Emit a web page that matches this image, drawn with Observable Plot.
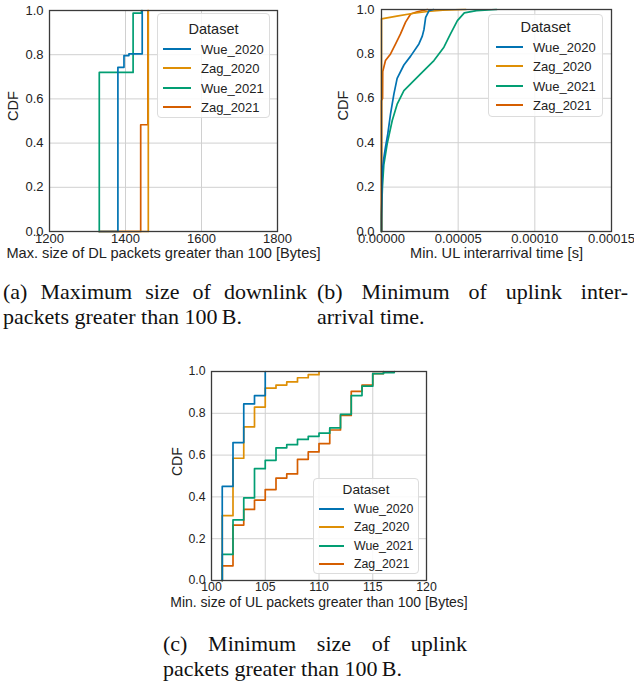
<!DOCTYPE html>
<html><head><meta charset="utf-8">
<script src="https://cdn.jsdelivr.net/npm/d3@7"></script>
<script src="https://cdn.jsdelivr.net/npm/@observablehq/plot@0.6"></script>
<style>
body{margin:0;background:#fff;}
#wrap{position:relative;width:634px;height:683px;overflow:hidden;background:#fff;font-family:"Liberation Sans",Arial,sans-serif;}
.panel{position:absolute;}
.legend{position:absolute;background:rgba(255,255,255,0.85);border:1px solid #dcdcdc;border-radius:4px;box-sizing:border-box;color:#222;}
.legend .t{position:absolute;left:0;right:0;text-align:center;line-height:1;}
.legend .row{position:absolute;left:0;right:0;height:0;}
.legend .row span{position:absolute;line-height:1;transform:translateY(-50%);white-space:nowrap;}
.legend .row i{position:absolute;height:2px;transform:translateY(-50%);}
.cap{position:absolute;font-family:"Liberation Serif","Times New Roman",serif;font-size:22px;line-height:25px;color:#111;}
.just{text-align:justify;text-align-last:justify;}
</style></head>
<body><div id="wrap"></div>
<script>
const seriesNames = ["Wue_2020","Zag_2020","Wue_2021","Zag_2021"];
const seriesColors = ["#0173B2","#DE8F05","#029E73","#D55E00"];

// (a) Max. size of DL packets greater than 100 [Bytes] — ECDF steps
const dlWue2020X = [1380, 1396, 1409, 1444];
const dlWue2020Y = [0.743, 0.796, 0.804, 1.0];
const dlZag2020X = [1460];
const dlZag2020Y = [1.0];
const dlWue2021X = [1331, 1420, 1442];
const dlWue2021Y = [0.72, 0.988, 1.0];
const dlZag2021X = [1440, 1459];
const dlZag2021Y = [0.483, 1.0];
const dlTicksX = [1200, 1400, 1600, 1800];

// (b) Min. UL interarrival time [s]
const iatWue2020X = [0, 0, 5e-7, 1.5e-6, 2.6e-6, 4.1e-6, 5.9e-6, 8.1e-6, 1.02e-5, 1.46e-5, 1.9e-5, 2.44e-5, 2.66e-5, 2.77e-5, 2.88e-5, 3.1e-5, 3.4e-5];
const iatWue2020Y = [0, 0.05, 0.27, 0.33, 0.38, 0.44, 0.53, 0.62, 0.69, 0.75, 0.79, 0.845, 0.88, 0.91, 0.965, 0.995, 1.0];
const iatZag2020X = [0, 0, 1e-5, 2e-5, 3e-5, 4e-5, 5.5e-5];
const iatZag2020Y = [0, 0.958, 0.97, 0.982, 0.991, 0.997, 1.0];
const iatWue2021X = [0, 0, 6e-7, 1.5e-6, 3.7e-6, 7e-6, 1.03e-5, 1.46e-5, 1.9e-5, 2.55e-5, 3.42e-5, 4.07e-5, 4.5e-5, 4.95e-5, 5.4e-5, 6.2e-5, 7.5e-5];
const iatWue2021Y = [0, 0.08, 0.2, 0.3, 0.395, 0.5, 0.575, 0.635, 0.665, 0.71, 0.77, 0.83, 0.89, 0.95, 0.985, 0.995, 1.0];
const iatZag2021X = [0, 0, 7e-7, 8e-7, 2.6e-6, 5.9e-6, 9.2e-6, 1.24e-5, 1.57e-5, 1.9e-5, 2.33e-5, 3e-5];
const iatZag2021Y = [0, 0.59, 0.6, 0.72, 0.77, 0.80, 0.845, 0.89, 0.943, 0.98, 0.99, 1.0];
const iatTicksX = [0, 0.00005, 0.0001, 0.00015];

// (c) Min. size of UL packets greater than 100 [Bytes] — ECDF steps
const ulWue2020X = [101, 102, 103, 104, 105];
const ulWue2020Y = [0.45, 0.66, 0.845, 0.885, 1.0];
const ulZag2020X = [101, 102, 103, 104, 105, 106, 107, 108, 109, 110];
const ulZag2020Y = [0.31, 0.585, 0.735, 0.83, 0.92, 0.935, 0.95, 0.97, 0.985, 1.0];
const ulWue2021X = [101, 102, 103, 104, 105, 106, 107, 108, 109, 110, 111, 112, 113, 114, 115, 116, 117];
const ulWue2021Y = [0.125, 0.29, 0.395, 0.535, 0.575, 0.635, 0.65, 0.675, 0.69, 0.705, 0.73, 0.795, 0.885, 0.93, 0.99, 0.995, 1.0];
const ulZag2021X = [101, 102, 103, 104, 105, 106, 107, 108, 109, 110, 111, 112, 113, 114, 115, 116];
const ulZag2021Y = [0.07, 0.265, 0.34, 0.385, 0.435, 0.49, 0.51, 0.58, 0.615, 0.655, 0.72, 0.79, 0.905, 0.935, 0.99, 1.0];
const ulTicksX = [100, 105, 110, 115, 120];

const cdfTicks = [0, 0.2, 0.4, 0.6, 0.8, 1.0];

function pts(xs, ys, start) {
  const out = [];
  if (start !== undefined) out.push({x: start, y: 0});
  xs.forEach((x, i) => out.push({x, y: ys[i]}));
  return out;
}

const wrap = document.getElementById("wrap");
const FONT = "'Liberation Sans', Arial, sans-serif";

function panel({left, top, width, height, mL, mR, mT, mB, domain, ticks, fmt, series, curve, xLabel, fs, lfs, xlDy, ylDx, yPad}) {
  const marks = [
    Plot.gridX(ticks, {stroke: "#d0d0d0", strokeOpacity: 1, strokeWidth: 1}),
    Plot.gridY(cdfTicks, {stroke: "#d0d0d0", strokeOpacity: 1, strokeWidth: 1})
  ];
  // seaborn draws hue levels in reverse order
  for (let k = series.length - 1; k >= 0; k--) {
    marks.push(Plot.line(series[k], {x: "x", y: "y", stroke: seriesColors[k], strokeWidth: 1.7, curve}));
  }
  marks.push(Plot.frame({stroke: "#3a3a3a", strokeWidth: 1.3}));
  marks.push(Plot.axisX(ticks, {tickSize: 0, tickPadding: 2, tickFormat: fmt, label: null, fontSize: fs}));
  marks.push(Plot.axisY(cdfTicks, {tickSize: 0, tickPadding: yPad, tickFormat: ".1f", label: null, fontSize: fs}));
  marks.push(Plot.text([xLabel], {frameAnchor: "bottom", dy: xlDy, fontSize: lfs, fill: "#222"}));
  marks.push(Plot.text(["CDF"], {frameAnchor: "left", dx: ylDx, rotate: -90, fontSize: lfs, fill: "#222"}));
  const svg = Plot.plot({
    width, height, marginLeft: mL, marginRight: mR, marginTop: mT, marginBottom: mB,
    x: {domain, type: "linear"},
    y: {domain: [0, 1]},
    style: {fontFamily: FONT, fontSize: fs + "px", color: "#222", background: "transparent", overflow: "visible"},
    marks
  });
  svg.classList.add("panel");
  svg.style.left = left + "px";
  svg.style.top = top + "px";
  wrap.appendChild(svg);
}

function legend({left, top, width, height, titleY, rows0, rowStep, lx0, lx1, tx, fs, tfs}) {
  const d = document.createElement("div");
  d.className = "legend";
  Object.assign(d.style, {left: left + "px", top: top + "px", width: width + "px", height: height + "px", fontSize: fs + "px"});
  const t = document.createElement("div");
  t.className = "t";
  t.textContent = "Dataset";
  t.style.fontSize = tfs + "px";
  t.style.top = (titleY - tfs / 2) + "px";
  d.appendChild(t);
  seriesNames.forEach((n, i) => {
    const r = document.createElement("div");
    r.className = "row";
    r.style.top = (rows0 + i * rowStep) + "px";
    const ln = document.createElement("i");
    Object.assign(ln.style, {left: lx0 + "px", width: (lx1 - lx0) + "px", background: seriesColors[i]});
    const s = document.createElement("span");
    s.textContent = n;
    s.style.left = tx + "px";
    r.appendChild(ln); r.appendChild(s);
    d.appendChild(r);
  });
  wrap.appendChild(d);
}

function caption(left, top, width, line1, line2) {
  const d = document.createElement("div");
  d.className = "cap";
  Object.assign(d.style, {left: left + "px", top: top + "px", width: width + "px"});
  const a = document.createElement("div"); a.className = "just"; a.textContent = line1;
  const b = document.createElement("div"); b.textContent = line2;
  d.appendChild(a); d.appendChild(b);
  wrap.appendChild(d);
}

// (a)
const dlStart = Math.min(...dlWue2020X, ...dlZag2020X, ...dlWue2021X, ...dlZag2021X);
panel({left: 0, top: 0, width: 300, height: 270, mL: 49, mR: 23, mT: 10, mB: 39,
  domain: [1200, 1800], ticks: dlTicksX, fmt: "d", curve: "step-after",
  series: [pts(dlWue2020X, dlWue2020Y, dlStart), pts(dlZag2020X, dlZag2020Y, dlStart), pts(dlWue2021X, dlWue2021Y, dlStart), pts(dlZag2021X, dlZag2021Y, dlStart)],
  xLabel: "Max. size of DL packets greater than 100 [Bytes]", fs: 13, lfs: 14.6, xlDy: 26, ylDx: -36, yPad: 6});
legend({left: 157, top: 13, width: 113, height: 105, titleY: 15, rows0: 35, rowStep: 19.3, lx0: 5, lx1: 33, tx: 43, fs: 13, tfs: 14.5});

// (b)
panel({left: 317, top: 0, width: 317, height: 270, mL: 64, mR: 23, mT: 9, mB: 39,
  domain: [0, 0.00015], ticks: iatTicksX, fmt: ".5f", curve: "linear",
  series: [pts(iatWue2020X, iatWue2020Y), pts(iatZag2020X, iatZag2020Y), pts(iatWue2021X, iatWue2021Y), pts(iatZag2021X, iatZag2021Y)],
  xLabel: "Min. UL interarrival time [s]", fs: 13, lfs: 14.6, xlDy: 26, ylDx: -38, yPad: 7});
legend({left: 488, top: 14, width: 115, height: 103, titleY: 12, rows0: 32, rowStep: 19.3, lx0: 7, lx1: 34, tx: 44, fs: 13, tfs: 14.5});

// (c)
panel({left: 150, top: 360, width: 300, height: 260, mL: 61, mR: 24, mT: 11, mB: 40,
  domain: [100, 120], ticks: ulTicksX, fmt: "d", curve: "step-after",
  series: [pts(ulWue2020X, ulWue2020Y, 101), pts(ulZag2020X, ulZag2020Y, 101), pts(ulWue2021X, ulWue2021Y, 101), pts(ulZag2021X, ulZag2021Y, 101)],
  xLabel: "Min. size of UL packets greater than 100 [Bytes]", fs: 12.3, lfs: 14, xlDy: 26, ylDx: -34, yPad: 6});
legend({left: 313, top: 478, width: 106, height: 96, titleY: 11, rows0: 30.3, rowStep: 18.1, lx0: 5, lx1: 30, tx: 40, fs: 12.3, tfs: 13.6});

caption(3, 279, 304, "(a) Maximum size of downlink", "packets greater than 100\u2009B.");
caption(317, 279, 311, "(b) Minimum of uplink inter-", "arrival time.");
caption(163, 631, 304, "(c) Minimum size of uplink", "packets greater than 100\u2009B.");
</script>
</body></html>
